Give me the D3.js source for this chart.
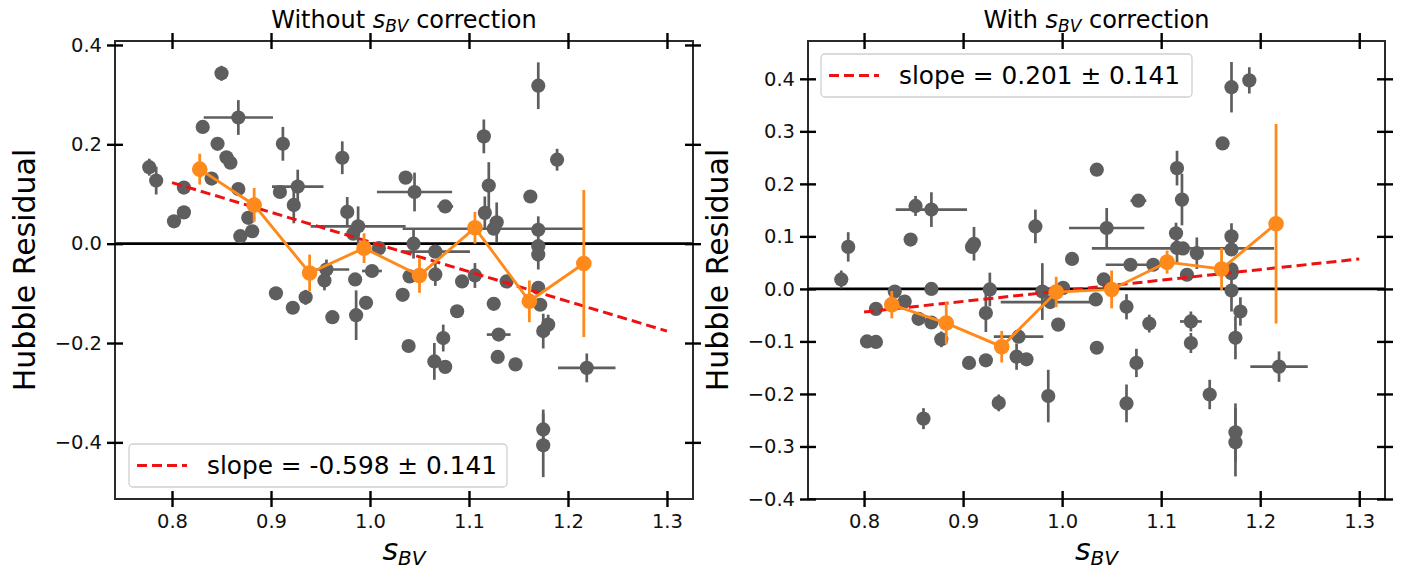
<!DOCTYPE html>
<html>
<head>
<meta charset="utf-8">
<script src="https://cdn.jsdelivr.net/npm/d3@7"></script>
<style>
  html, body { margin: 0; padding: 0; background: #fff; }
  svg { display: block; font-family: "DejaVu Sans", sans-serif; }
</style>
</head>
<body>
<svg id="chart" width="1413" height="569"></svg>
<script>
// ---------------- DATA ----------------
const xTicks = [0.8, 0.9, 1.0, 1.1, 1.2, 1.3];
const xTickLabels = ["0.8", "0.9", "1.0", "1.1", "1.2", "1.3"];
const leftYTicks = [-0.4, -0.2, 0.0, 0.2, 0.4];
const leftYTickLabels = ["\u22120.4", "\u22120.2", "0.0", "0.2", "0.4"];
const rightYTicks = [-0.4, -0.3, -0.2, -0.1, 0.0, 0.1, 0.2, 0.3, 0.4];
const rightYTickLabels = ["\u22120.4", "\u22120.3", "\u22120.2", "\u22120.1", "0.0", "0.1", "0.2", "0.3", "0.4"];

// [sBV, residual, xerr, yerr]
const leftPoints = [
  [0.850, 0.343, 0, 0.015], [0.867, 0.254, 0.035, 0.035], [0.831, 0.235, 0, 0], [0.846, 0.201, 0, 0],
  [0.855, 0.174, 0, 0], [0.859, 0.163, 0, 0], [0.777, 0.154, 0, 0.017], [0.784, 0.127, 0, 0.028],
  [0.840, 0.131, 0, 0], [0.812, 0.113, 0, 0], [0.867, 0.110, 0, 0], [0.912, 0.201, 0, 0.034],
  [0.909, 0.104, 0, 0.012], [0.927, 0.115, 0.026, 0.034], [0.923, 0.078, 0, 0.037], [0.972, 0.173, 0, 0.033],
  [1.036, 0.133, 0, 0], [0.802, 0.045, 0, 0.010], [0.812, 0.063, 0, 0], [0.877, 0.052, 0, 0],
  [0.881, 0.025, 0, 0], [0.869, 0.015, 0, 0], [0.977, 0.064, 0, 0.030], [0.988, 0.035, 0.048, 0.040],
  [0.983, 0.020, 0, 0], [1.009, -0.009, 0, 0], [1.045, 0.104, 0.038, 0.039], [0.956, -0.052, 0.023, 0.020],
  [0.954, -0.074, 0, 0.020], [0.985, -0.072, 0, 0], [1.002, -0.055, 0.010, 0], [0.905, -0.100, 0, 0],
  [0.922, -0.129, 0, 0], [0.935, -0.108, 0, 0.015], [0.962, -0.148, 0, 0.010], [0.986, -0.144, 0, 0.050],
  [0.996, -0.119, 0, 0], [1.033, -0.103, 0, 0], [1.039, -0.206, 0, 0], [1.040, -0.066, 0, 0],
  [1.066, -0.062, 0, 0.023], [1.074, -0.190, 0, 0.027], [1.065, -0.237, 0, 0.037], [1.076, -0.248, 0, 0],
  [1.088, -0.136, 0, 0.010], [1.093, -0.076, 0, 0], [1.106, -0.064, 0, 0.025], [1.125, -0.121, 0, 0.010],
  [1.130, -0.183, 0.012, 0.012], [1.129, -0.228, 0, 0.012], [1.147, -0.243, 0, 0.012], [1.138, -0.076, 0, 0],
  [1.170, -0.089, 0, 0], [1.172, -0.123, 0, 0], [1.175, -0.176, 0, 0.035], [1.180, -0.163, 0, 0.020],
  [1.219, -0.250, 0.029, 0.029], [1.175, -0.374, 0, 0.040], [1.175, -0.406, 0, 0.064], [1.170, 0.318, 0, 0.047],
  [1.115, 0.216, 0, 0.034], [1.189, 0.169, 0, 0.022], [1.120, 0.117, 0, 0.047], [1.162, 0.095, 0, 0],
  [1.076, 0.075, 0.008, 0], [1.116, 0.062, 0, 0.033], [1.128, 0.043, 0, 0.040], [1.125, 0.030, 0.092, 0],
  [1.170, 0.028, 0, 0.027], [1.066, -0.016, 0.035, 0], [1.044, 0.000, 0, 0.030], [1.170, -0.005, 0, 0],
  [1.170, -0.022, 0, 0.030]
];

const rightPoints = [
  [0.852, 0.158, 0, 0.019], [0.868, 0.151, 0.036, 0.033], [0.847, 0.094, 0, 0], [0.784, 0.080, 0, 0.028],
  [0.911, 0.086, 0, 0.032], [0.909, 0.080, 0, 0], [0.973, 0.119, 0, 0.032], [1.010, 0.057, 0, 0.010],
  [1.035, 0.227, 0, 0], [0.777, 0.018, 0, 0.017], [1.171, 0.384, 0, 0.048], [1.189, 0.397, 0, 0.025],
  [1.162, 0.277, 0, 0], [1.116, 0.230, 0, 0.033], [1.077, 0.168, 0.008, 0], [1.121, 0.170, 0, 0.049],
  [1.045, 0.116, 0.038, 0.038], [1.115, 0.106, 0, 0.020], [1.171, 0.100, 0, 0.025], [1.122, 0.077, 0.092, 0],
  [1.116, 0.078, 0, 0.030], [1.136, 0.068, 0, 0.030], [1.171, 0.075, 0, 0], [1.069, 0.046, 0.025, 0],
  [1.092, 0.046, 0, 0], [1.126, 0.027, 0, 0], [1.171, 0.037, 0, 0], [1.042, 0.018, 0, 0],
  [0.831, -0.005, 0, 0.010], [0.841, -0.024, 0, 0], [0.812, -0.038, 0, 0], [0.803, -0.100, 0, 0.010],
  [0.812, -0.101, 0, 0], [0.868, 0.000, 0, 0], [0.855, -0.057, 0, 0], [0.868, -0.064, 0, 0],
  [0.878, -0.096, 0, 0.015], [0.860, -0.247, 0, 0.020], [0.927, -0.001, 0, 0.032], [0.923, -0.046, 0, 0.036],
  [0.906, -0.141, 0, 0], [0.923, -0.136, 0, 0], [0.936, -0.217, 0, 0.016], [0.956, -0.091, 0.025, 0],
  [0.954, -0.129, 0, 0.025], [0.964, -0.134, 0, 0], [0.986, -0.204, 0, 0.050], [0.980, -0.005, 0, 0.054],
  [0.988, -0.025, 0.050, 0], [0.996, -0.068, 0, 0], [1.001, 0.002, 0, 0], [1.034, -0.020, 0, 0],
  [1.035, -0.112, 0, 0], [1.065, -0.034, 0, 0.024], [1.088, -0.066, 0, 0.017], [1.075, -0.141, 0, 0.027],
  [1.065, -0.218, 0, 0.036], [1.130, -0.062, 0.011, 0.019], [1.130, -0.103, 0, 0.019], [1.149, -0.201, 0, 0.028],
  [1.171, -0.003, 0, 0.040], [1.171, 0.030, 0, 0], [1.180, -0.043, 0, 0.027], [1.175, -0.093, 0, 0.041],
  [1.175, -0.273, 0, 0.055], [1.175, -0.292, 0, 0.065], [1.219, -0.148, 0.029, 0.029]
];

// binned means (orange)
const binX = [0.828, 0.883, 0.939, 0.994, 1.050, 1.106, 1.161, 1.216];
const leftBinY = [0.150, 0.078, -0.059, -0.009, -0.064, 0.032, -0.116, -0.040];
const leftBinErr = [0.031, 0.034, 0.037, 0.030, 0.035, 0.032, 0.042, 0.148];
const rightBinY = [-0.030, -0.065, -0.110, -0.006, -0.001, 0.051, 0.038, 0.124];
const rightBinErr = [0.026, 0.040, 0.030, 0.029, 0.036, 0.022, 0.040, 0.190];

// linear fit endpoints
const fitX = [0.8, 1.3];
const leftFitY = [0.123, -0.176];
const rightFitY = [-0.044, 0.057];

const leftLegend = "slope = -0.598 \u00b1 0.141";
const rightLegend = "slope = 0.201 \u00b1 0.141";

// ---------------- DRAW ----------------
const svg = d3.select("#chart");
const GRAY = "#5e5e5e", ORANGE = "#ff8a1c", RED = "#ee1111";

function drawPanel(cfg) {
  const x = d3.scaleLinear().domain(cfg.xDomain).range([cfg.left, cfg.right]);
  const y = d3.scaleLinear().domain(cfg.yDomain).range([cfg.bottom, cfg.top]);
  const g = svg.append("g");

  // zero line
  g.append("line")
    .attr("x1", cfg.left).attr("x2", cfg.right)
    .attr("y1", y(0)).attr("y2", y(0))
    .attr("stroke", "#000").attr("stroke-width", 2.8);

  // gray error bars
  const eb = g.append("g").attr("stroke", GRAY).attr("stroke-width", 2.7);
  cfg.points.forEach(p => {
    if (p[2] > 0) eb.append("line").attr("x1", x(p[0] - p[2])).attr("x2", x(p[0] + p[2]))
      .attr("y1", y(p[1])).attr("y2", y(p[1]));
    if (p[3] > 0) eb.append("line").attr("x1", x(p[0])).attr("x2", x(p[0]))
      .attr("y1", y(p[1] - p[3])).attr("y2", y(p[1] + p[3]));
  });
  g.append("g").selectAll("circle").data(cfg.points).join("circle")
    .attr("cx", d => x(d[0])).attr("cy", d => y(d[1])).attr("r", 7.1).attr("fill", GRAY);

  // fit line
  g.append("line")
    .attr("x1", x(fitX[0])).attr("x2", x(fitX[1]))
    .attr("y1", y(cfg.fitY[0])).attr("y2", y(cfg.fitY[1]))
    .attr("stroke", RED).attr("stroke-width", 3).attr("stroke-dasharray", "10,5");

  // orange binned
  const bins = binX.map((v, i) => [v, cfg.binY[i], cfg.binErr[i]]);
  g.append("g").selectAll("line").data(bins).join("line")
    .attr("x1", d => x(d[0])).attr("x2", d => x(d[0]))
    .attr("y1", d => y(d[1] - d[2])).attr("y2", d => y(d[1] + d[2]))
    .attr("stroke", ORANGE).attr("stroke-width", 2.8);
  g.append("path").datum(bins)
    .attr("d", d3.line().x(d => x(d[0])).y(d => y(d[1])))
    .attr("fill", "none").attr("stroke", ORANGE).attr("stroke-width", 2.9);
  g.append("g").selectAll("circle").data(bins).join("circle")
    .attr("cx", d => x(d[0])).attr("cy", d => y(d[1])).attr("r", 7.8).attr("fill", ORANGE);

  // frame
  g.append("rect")
    .attr("x", cfg.left).attr("y", cfg.top)
    .attr("width", cfg.right - cfg.left).attr("height", cfg.bottom - cfg.top)
    .attr("fill", "none").attr("stroke", "#2a2a2a").attr("stroke-width", 2);

  // axes with in-out ticks
  const styleAx = sel => {
    sel.select(".domain").remove();
    sel.selectAll(".tick line").attr("stroke", "#000").attr("stroke-width", 2.4);
    sel.selectAll(".tick text").attr("font-size", "19.5px").attr("fill", "#111")
      .attr("font-family", "DejaVu Sans, sans-serif");
  };
  const tl = 8;
  // bottom
  g.append("g").attr("transform", `translate(0,${cfg.bottom})`)
    .call(d3.axisBottom(x).tickValues(xTicks).tickFormat((d, i) => xTickLabels[i]).tickSize(tl).tickPadding(7))
    .call(styleAx);
  g.append("g").attr("transform", `translate(0,${cfg.bottom})`)
    .call(d3.axisBottom(x).tickValues(xTicks).tickFormat("").tickSize(-tl)).call(styleAx);
  // top
  g.append("g").attr("transform", `translate(0,${cfg.top})`)
    .call(d3.axisTop(x).tickValues(xTicks).tickFormat("").tickSize(tl)).call(styleAx);
  g.append("g").attr("transform", `translate(0,${cfg.top})`)
    .call(d3.axisTop(x).tickValues(xTicks).tickFormat("").tickSize(-tl)).call(styleAx);
  // left
  g.append("g").attr("transform", `translate(${cfg.left},0)`)
    .call(d3.axisLeft(y).tickValues(cfg.yTicks).tickFormat((d, i) => cfg.yTickLabels[i]).tickSize(tl).tickPadding(5))
    .call(styleAx);
  g.append("g").attr("transform", `translate(${cfg.left},0)`)
    .call(d3.axisLeft(y).tickValues(cfg.yTicks).tickFormat("").tickSize(-tl)).call(styleAx);
  // right
  g.append("g").attr("transform", `translate(${cfg.right},0)`)
    .call(d3.axisRight(y).tickValues(cfg.yTicks).tickFormat("").tickSize(tl)).call(styleAx);
  g.append("g").attr("transform", `translate(${cfg.right},0)`)
    .call(d3.axisRight(y).tickValues(cfg.yTicks).tickFormat("").tickSize(-tl)).call(styleAx);

  const cx = (cfg.left + cfg.right) / 2;
  // title
  const t = g.append("text").attr("x", cx).attr("y", 27.5).attr("text-anchor", "middle")
    .attr("font-size", "24px").attr("fill", "#000");
  t.append("tspan").text(cfg.titlePre);
  t.append("tspan").attr("font-style", "italic").text("s");
  t.append("tspan").attr("font-style", "italic").attr("font-size", "17px").attr("dy", 4).text("BV");
  t.append("tspan").attr("dy", -4).text(" correction");

  // x label
  const xl = g.append("text").attr("x", cx).attr("y", 560).attr("text-anchor", "middle")
    .attr("font-size", "30px").attr("fill", "#000");
  xl.append("tspan").attr("font-style", "italic").text("s");
  xl.append("tspan").attr("font-style", "italic").attr("font-size", "20px").attr("dy", 5).text("BV");

  // y label
  g.append("text").attr("transform", `translate(${cfg.left - 80},${(cfg.top + cfg.bottom) / 2}) rotate(-90)`)
    .attr("text-anchor", "middle").attr("font-size", "30px").attr("fill", "#000")
    .text("Hubble Residual");

  // legend
  const L = cfg.legend;
  g.append("rect").attr("x", L.x).attr("y", L.y).attr("width", L.w).attr("height", L.h)
    .attr("rx", 4).attr("fill", "#fff").attr("fill-opacity", 0.85)
    .attr("stroke", "#d0d0d0").attr("stroke-width", 1.3);
  g.append("line").attr("x1", L.x + 8).attr("x2", L.x + 58)
    .attr("y1", L.y + L.h / 2).attr("y2", L.y + L.h / 2)
    .attr("stroke", RED).attr("stroke-width", 3).attr("stroke-dasharray", "10,5");
  g.append("text").attr("x", L.x + 78).attr("y", L.y + L.h / 2 + 8.5)
    .attr("font-size", "24.8px").attr("fill", "#000").text(L.text);
}

drawPanel({
  left: 115, right: 693, top: 41, bottom: 499,
  xDomain: [0.7424, 1.3263], yDomain: [-0.514, 0.408],
  yTicks: leftYTicks, yTickLabels: leftYTickLabels,
  points: leftPoints, binY: leftBinY, binErr: leftBinErr, fitY: leftFitY,
  titlePre: "Without ",
  legend: { x: 129, y: 444, w: 378, h: 43, text: leftLegend }
});

drawPanel({
  left: 808, right: 1385, top: 41, bottom: 499,
  xDomain: [0.7434, 1.326], yDomain: [-0.4, 0.472],
  yTicks: rightYTicks, yTickLabels: rightYTickLabels,
  points: rightPoints, binY: rightBinY, binErr: rightBinErr, fitY: rightFitY,
  titlePre: "With ",
  legend: { x: 821, y: 54, w: 371, h: 43, text: rightLegend }
});
</script>
</body>
</html>
